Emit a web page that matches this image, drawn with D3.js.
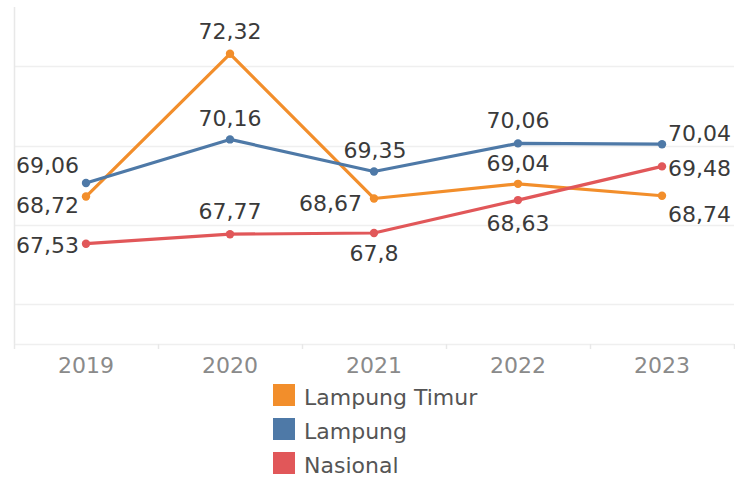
<!DOCTYPE html>
<html>
<head>
<meta charset="utf-8">
<script src="https://cdn.jsdelivr.net/npm/d3@7"></script>
<style>
  html, body { margin: 0; padding: 0; background: #fff; }
  svg { display: block; font-family: "DejaVu Sans", sans-serif; }
</style>
</head>
<body>
<svg id="chart" width="735" height="479"></svg>
<script>
// Years on the x axis
const years = ["2019", "2020", "2021", "2022", "2023"];

// Series names and values
const seriesNames = ["Lampung Timur", "Lampung", "Nasional"];
const lampungTimur = [68.72, 72.32, 68.67, 69.04, 68.74];
const lampung = [69.06, 70.16, 69.35, 70.06, 70.04];
const nasional = [67.53, 67.77, 67.80, 68.63, 69.48];

// Gridline values on the value axis
const gridValues = [66, 68, 70, 72];

const seriesColors = ["#F28E2B", "#4E79A7", "#E15759"];
const seriesValues = [lampungTimur, lampung, nasional];

// Where each value label sits relative to its point: [anchor, dx, dy]
const labelPlacement = {
  "Lampung Timur": [["end", -7, 16], ["middle", 0, -15], ["end", -12, 13], ["middle", 0, -13], ["start", 6, 26]],
  "Lampung":       [["end", -7, -10], ["middle", 0, -13], ["middle", 1, -14], ["middle", 0, -15], ["start", 6, -3]],
  "Nasional":      [["end", -7, 9], ["middle", 0, -15], ["middle", 0, 28], ["middle", 0, 31], ["start", 6, 10]]
};

const svg = d3.select("#chart");
const plot = { left: 14, right: 734, top: 7, bottom: 344 };

const x = d3.scaleBand().domain(years).range([plot.left, plot.right]).padding(0);
const y = d3.scaleLinear().domain([65, 73.5]).range([plot.bottom, plot.top]);
const cx = d => x(d) + x.bandwidth() / 2;

// Horizontal gridlines
svg.append("g").selectAll("line").data(gridValues).join("line")
  .attr("x1", plot.left).attr("x2", plot.right)
  .attr("y1", d => Math.round(y(d)) + 0.5).attr("y2", d => Math.round(y(d)) + 0.5)
  .attr("stroke", "#efefef").attr("stroke-width", 1.5);

// Left axis rule
svg.append("line")
  .attr("x1", plot.left + 0.5).attr("x2", plot.left + 0.5)
  .attr("y1", plot.top).attr("y2", plot.bottom)
  .attr("stroke", "#e8e8e8").attr("stroke-width", 1.5);

// X axis: baseline, ticks at band edges, year labels at band centres
const xAxis = svg.append("g").attr("transform", `translate(0,${plot.bottom})`);
xAxis.append("line")
  .attr("x1", plot.left).attr("x2", plot.right)
  .attr("y1", 0.5).attr("y2", 0.5)
  .attr("stroke", "#efefef").attr("stroke-width", 1.5);
const edges = years.map(d => x(d)).concat([plot.right]);
xAxis.selectAll("line.tick").data(edges).join("line").attr("class", "tick")
  .attr("x1", d => Math.round(d) + 0.5).attr("x2", d => Math.round(d) + 0.5)
  .attr("y1", 0).attr("y2", 5)
  .attr("stroke", "#e8e8e8").attr("stroke-width", 1.5);
xAxis.selectAll("text").data(years).join("text")
  .attr("x", d => cx(d)).attr("y", 29)
  .attr("text-anchor", "middle")
  .attr("font-size", 22).attr("fill", "#8a8a8a")
  .text(d => d);

// Lines and points
const line = d3.line().x((v, i) => cx(years[i])).y(v => y(v));
seriesNames.forEach((name, s) => {
  const g = svg.append("g");
  g.append("path").datum(seriesValues[s])
    .attr("d", line).attr("fill", "none")
    .attr("stroke", seriesColors[s]).attr("stroke-width", 3.2)
    .attr("stroke-linejoin", "round");
  g.selectAll("circle").data(seriesValues[s]).join("circle")
    .attr("cx", (v, i) => cx(years[i])).attr("cy", v => y(v))
    .attr("r", 4.2).attr("fill", seriesColors[s]);
});

// Value labels
const fmt = v => String(+v.toFixed(2)).replace(".", ",");
seriesNames.forEach((name, s) => {
  svg.append("g").selectAll("text").data(seriesValues[s]).join("text")
    .attr("x", (v, i) => cx(years[i]) + labelPlacement[name][i][1])
    .attr("y", (v, i) => y(v) + labelPlacement[name][i][2])
    .attr("text-anchor", (v, i) => labelPlacement[name][i][0])
    .attr("font-size", 22).attr("fill", "#3a3a3a")
    .text(fmt);
});

// Legend
const legend = svg.append("g").attr("transform", "translate(273,384)");
const rows = legend.selectAll("g").data(seriesNames).join("g")
  .attr("transform", (d, i) => `translate(0,${i * 34})`);
rows.append("rect").attr("width", 22).attr("height", 22)
  .attr("fill", (d, i) => seriesColors[i]);
rows.append("text").attr("x", 31).attr("y", 21)
  .attr("font-size", 22).attr("fill", "#555")
  .text(d => d);
</script>
</body>
</html>
